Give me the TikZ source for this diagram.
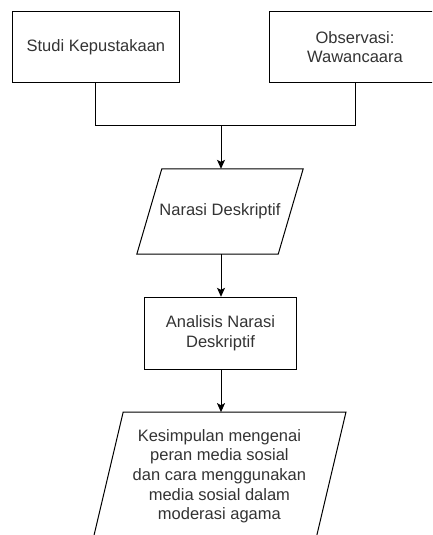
\documentclass[tikz,border=0pt]{standalone}
\usepackage{fontspec}
\setmainfont{Liberation Sans}
\usetikzlibrary{arrows.meta,calc}
\definecolor{txt}{HTML}{333333}
\begin{document}
\begin{tikzpicture}[x=1pt,y=-1pt,
  every node/.style={font=\fontsize{16.5}{19.7}\selectfont, text=txt, align=center, inner sep=0pt},
  boxnode/.style={draw=black, line width=1pt, rectangle},
  arr/.style={-{Stealth[length=9pt,width=8pt,inset=2pt]}, line width=1pt},
  conn/.style={line width=1pt}]
\useasboundingbox (0,0) rectangle (432,535);
\clip (0,0) rectangle (432,535);
% boxes
\node[boxnode, minimum width=166.3pt, minimum height=71pt] (s1) at (95.9,47.2) {Studi Kepustakaan};
\node[boxnode, minimum width=172pt, minimum height=71pt] (s2) at (355,47.2) {Observasi:\\Wawancaara};
% parallelogram 1 (text holder)
\node[minimum width=166pt, minimum height=85pt] (nar) at (220,211.5) {Narasi Deskriptif};
\draw[line width=1pt] ($(nar.north west)+(25,0)$) -- (nar.north east) -- ($(nar.south east)-(25,0)$) -- (nar.south west) -- cycle;
% analysis box
\node[boxnode, minimum width=152.6pt, minimum height=72pt] (ana) at (220.5,333.3) {Analisis Narasi\\Deskriptif};
% parallelogram 2
\node[minimum width=252.7pt, minimum height=127.7pt] (kes) at (219.4,476.2) {Kesimpulan mengenai\\peran media sosial\\dan cara menggunakan\\media sosial dalam\\moderasi agama};
\draw[line width=1pt] ($(kes.north west)+(30.3,0)$) -- (kes.north east) -- ($(kes.south east)-(30.3,0)$) -- (kes.south west) -- cycle;
% connectors
\coordinate (j) at (221,125.7);
\draw[conn] (s1.south) |- (j) -| (s2.south);
\draw[arr] (j) -- (j |- nar.north);
\draw[arr] (j |- nar.south) -- (j |- ana.north);
\draw[arr] (j |- ana.south) -- (j |- kes.north);
\end{tikzpicture}
\end{document}
